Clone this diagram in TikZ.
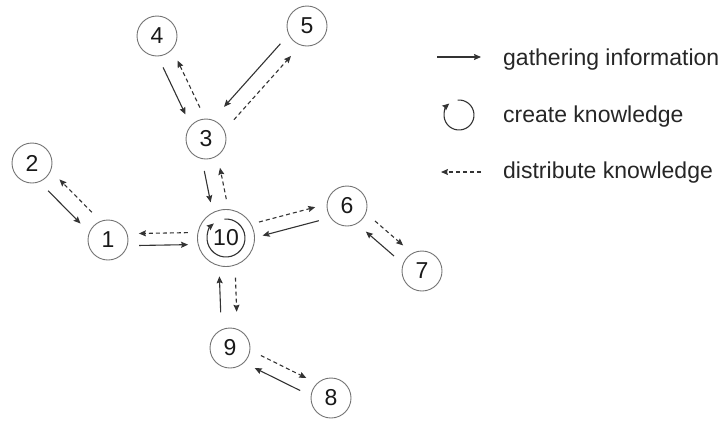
\documentclass[tikz,border=0pt]{standalone}
\usepackage{fontspec}
\setmainfont{Liberation Sans}
\usepackage{tikz}
\usetikzlibrary{arrows.meta, calc}

\begin{document}
\begin{tikzpicture}[x=1pt,y=-1pt,>={Stealth[length=7pt,width=6pt,inset=1pt]},
            main node/.style={circle,draw=black!55,line width=0.9pt,minimum size=40pt,inner sep=0pt,
                text=black!90,font=\fontsize{23}{28}\selectfont},
            hub node/.style={main node,minimum size=57pt},
            pair/.style={to path={($(\tikztostart)!#1!90:(\tikztotarget)$) -- ($(\tikztotarget)!#1!-90:(\tikztostart)$)}},
            gather/.style={->,draw=black!80,line width=1.1pt,shorten <=31pt,shorten >=31pt},
            spread/.style={gather,dash pattern=on 4pt off 3pt},
            label node/.style={anchor=base west,inner sep=0pt,text=black!85,font=\fontsize{23}{28}\selectfont}]
        \useasboundingbox (0,0) rectangle (725,421);

        \node[hub node] (10) at (226,238) {10};
        \node[main node] (1) at (108,240) {1};
        \node[main node] (2) at (32,163) {2};
        \node[main node] (3) at (206,139) {3};
        \node[main node] (4) at (157,36) {4};
        \node[main node] (5) at (307,26) {5};
        \node[main node] (6) at (347,206) {6};
        \node[main node] (7) at (422,271) {7};
        \node[main node] (8) at (331,398) {8};
        \node[main node] (9) at (230,348) {9};

        % knowledge loop in the hub
        \draw[->,black!80,line width=1.1pt] ($(10)+(95:19pt)$) arc[start angle=95,end angle=-230,radius=19pt];

        % gathering information
        \draw[gather] (4) to[pair=-8pt] (3);
        \draw[gather,shorten >=36pt] (5) to[pair=-8pt] (3);
        \draw[gather,shorten >=38pt] (3) to[pair=-8pt] (10);
        \draw[gather] (2) to[pair=-8pt] (1);
        \draw[gather,shorten >=38pt] (1) to[pair=-6pt] (10);
        \draw[gather,shorten >=36pt] (6) to[pair=7pt] (10);
        \draw[gather] (7) to[pair=7pt] (6);
        \draw[gather,shorten >=38pt,shorten <=36pt] (9) to[pair=8pt] (10);
        \draw[gather] (8) to[pair=7pt] (9);

        % distribute knowledge
        \draw[spread] (3) to[pair=-8pt] (4);
        \draw[spread,shorten <=33pt,shorten >=33pt] (3) to[pair=-8pt] (5);
        \draw[spread,shorten <=38pt] (10) to[pair=-8pt] (3);
        \draw[spread] (1) to[pair=-8pt] (2);
        \draw[spread,shorten <=38pt] (10) to[pair=-6pt] (1);
        \draw[spread,shorten <=36pt] (10) to[pair=7pt] (6);
        \draw[spread] (6) to[pair=7pt] (7);
        \draw[spread,shorten <=40pt,shorten >=36pt] (10) to[pair=8pt] (9);
        \draw[spread] (9) to[pair=7pt] (8);

        % legend
        \coordinate (g1) at (437,57);
        \coordinate (g2) at (481,57);
        \coordinate (c1) at (459,115);
        \coordinate (d1) at (481,172);
        \coordinate (d2) at (441,172);
        \draw[->,black!80,line width=1.1pt] (g1) -- (g2);
        \draw[->,black!80,line width=1.1pt] ($(c1)+(95:15pt)$) arc[start angle=95,end angle=-230,radius=15pt];
        \draw[->,black!80,line width=1.1pt,dash pattern=on 4pt off 3pt] (d1) -- (d2);
        \node[label node] (lg) at (503,65) {gathering information};
        \node[label node] (lc) at (503,122) {create knowledge};
        \node[label node] (ld) at (503,178) {distribute knowledge};
    \end{tikzpicture}
\end{document}
